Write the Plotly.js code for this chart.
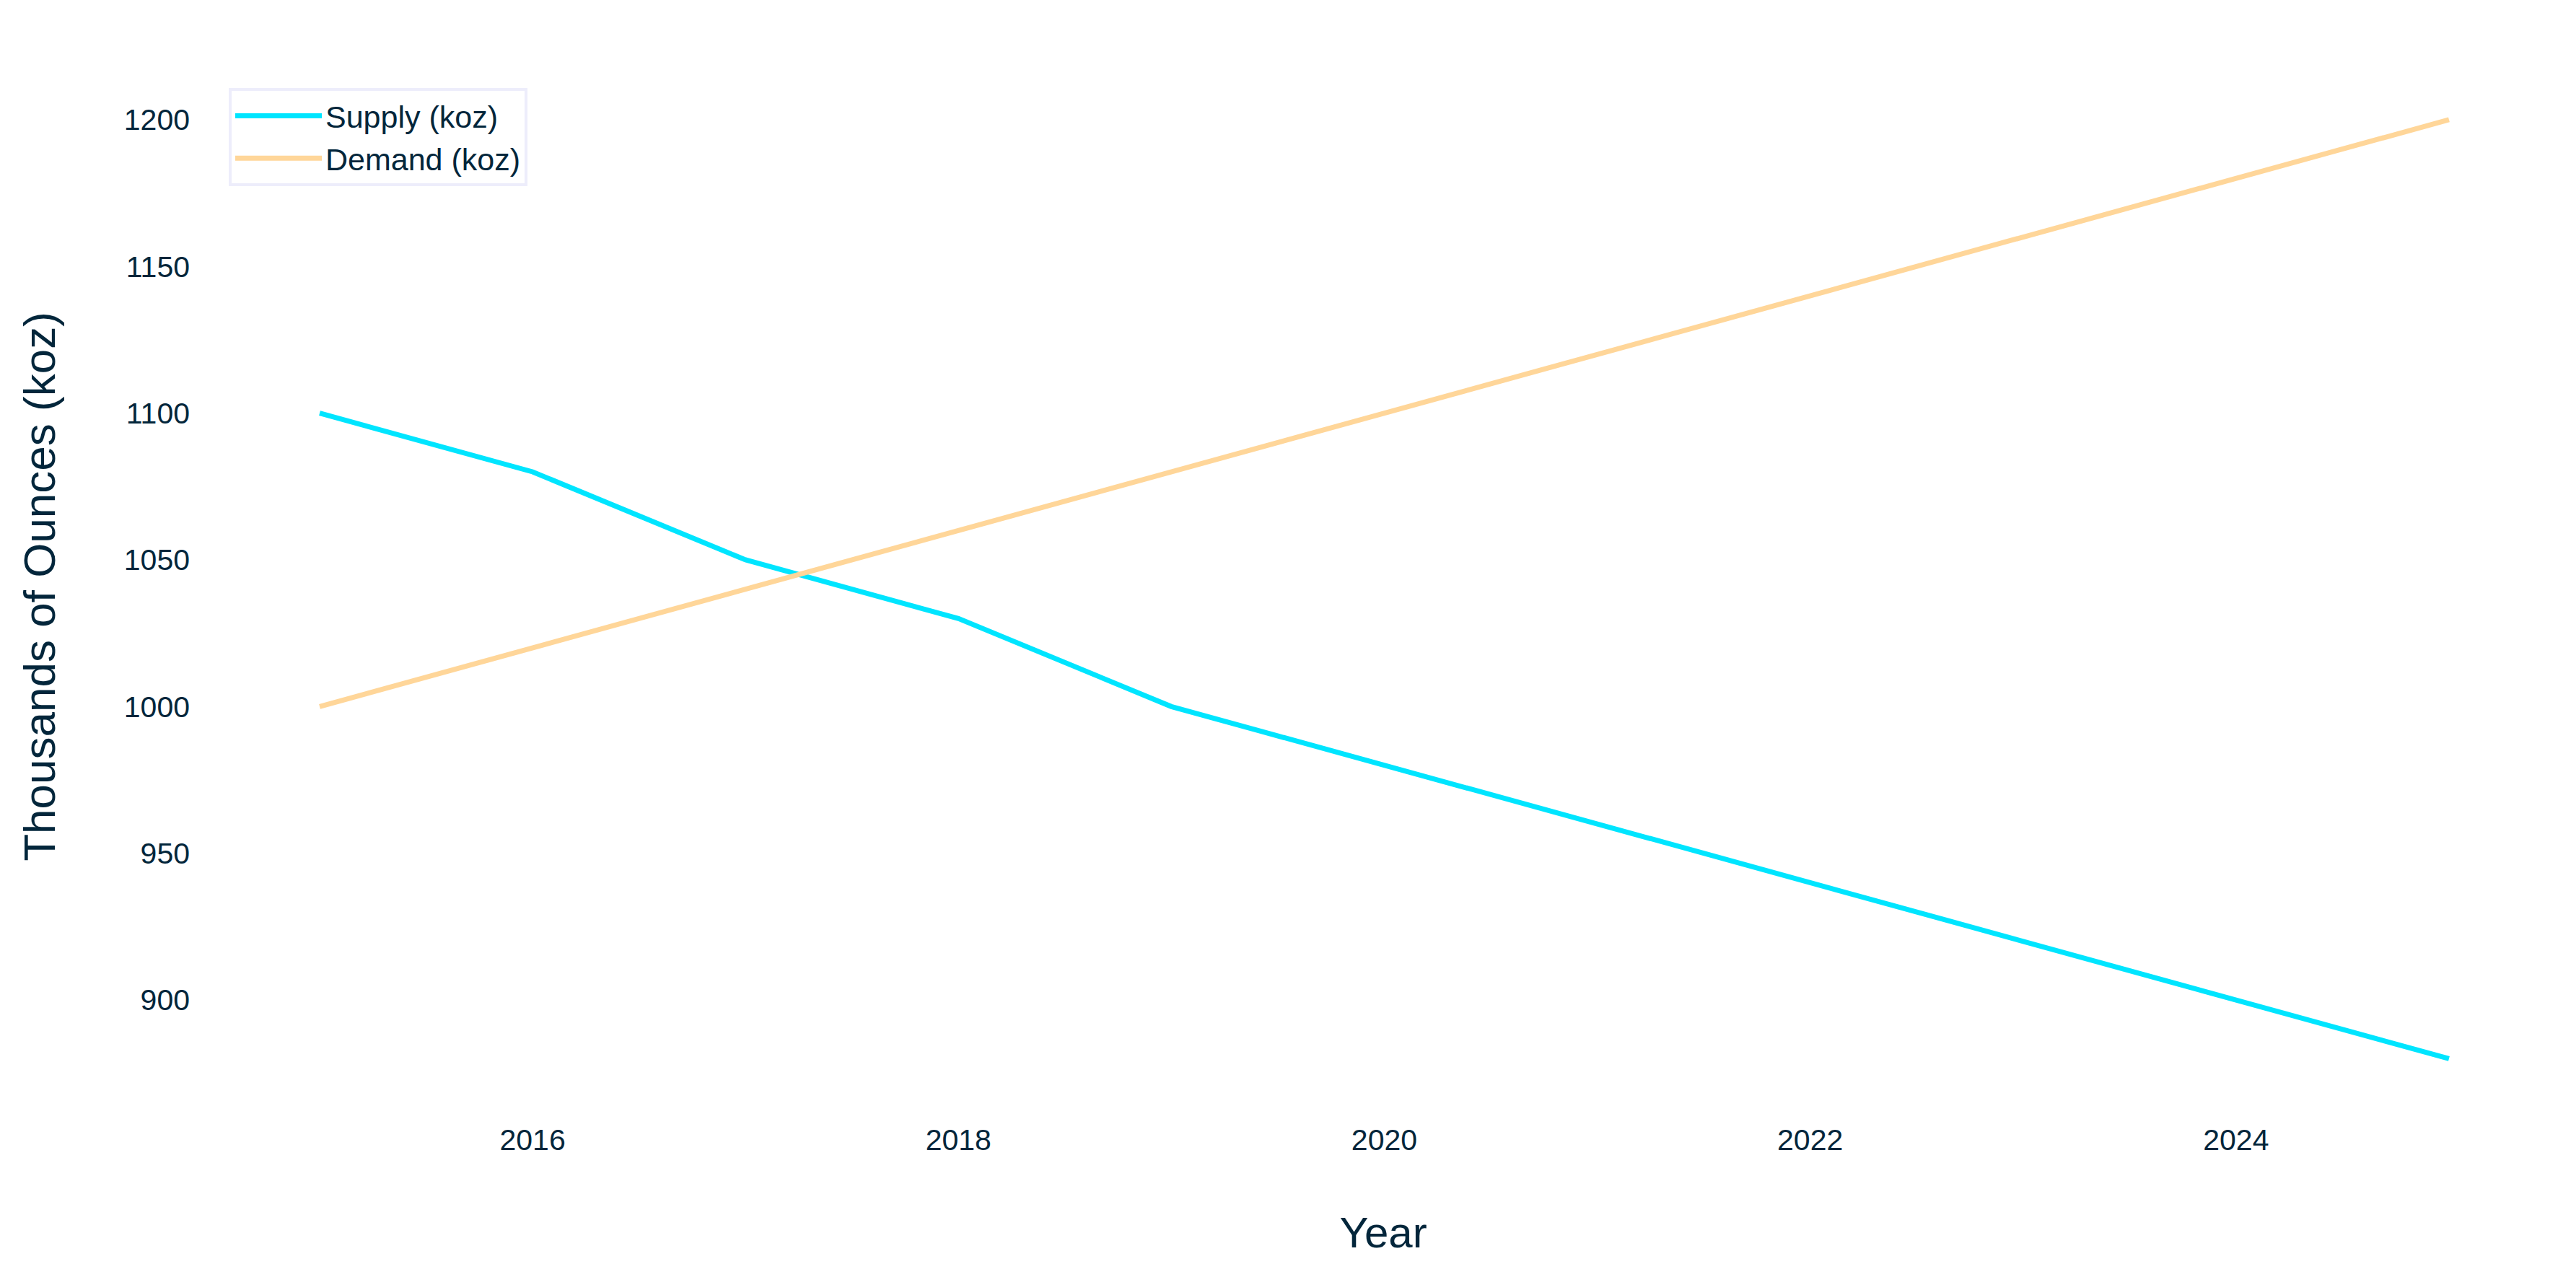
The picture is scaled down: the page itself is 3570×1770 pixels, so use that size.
<!DOCTYPE html>
<html>
<head>
<meta charset="utf-8">
<script src="https://cdn.plot.ly/plotly-3.0.1.min.js"></script>
<style>html,body{margin:0;padding:0;background:#fff;}#chart{width:3570px;height:1770px;}</style>
</head>
<body>
<div id="chart"></div>
<script>
const years = [2015, 2016, 2017, 2018, 2019, 2020, 2021, 2022, 2023, 2024, 2025];
const supply = [1100, 1080, 1050, 1030, 1000, 980, 960, 940, 920, 900, 880];
const demand = [1000, 1020, 1040, 1060, 1080, 1100, 1120, 1140, 1160, 1180, 1200];
const xTicks = [2016, 2018, 2020, 2022, 2024];
const yTicks = [900, 950, 1000, 1050, 1100, 1150, 1200];

const textColor = '#03263b';
const fontFam = '"Liberation Sans", Arial, sans-serif';

const traces = [
  {x: years, y: supply, name: 'Supply (koz)', type: 'scatter', mode: 'lines',
   line: {color: '#00e5ff', width: 7}},
  {x: years, y: demand, name: 'Demand (koz)', type: 'scatter', mode: 'lines',
   line: {color: '#ffd699', width: 7}}
];

const layout = {
  width: 3570, height: 1770,
  paper_bgcolor: '#ffffff', plot_bgcolor: '#ffffff',
  font: {family: fontFam, color: textColor, size: 41},
  margin: {l: 317, r: 53, t: 122, b: 266},
  showlegend: true,
  legend: {x: 0, y: 1, xanchor: 'left', yanchor: 'top',
           bgcolor: '#ffffff', bordercolor: '#ededfb', borderwidth: 4,
           font: {family: fontFam, size: 43, color: textColor},
           itemwidth: 120},
  xaxis: {range: [2014.573, 2025.417], tickvals: xTicks, ticktext: xTicks.map(String),
          showgrid: false, zeroline: false, showline: false, ticks: '',
          tickfont: {size: 41, color: textColor}, automargin: false, ticklabelstandoff: 48,
          title: {text: 'Year', font: {size: 60, color: textColor}, standoff: 84}},
  yaxis: {range: [871, 1210.8], tickvals: yTicks, ticktext: yTicks.map(String),
          showgrid: false, zeroline: false, showline: false, ticks: '',
          tickfont: {size: 41, color: textColor}, automargin: false, ticklabelstandoff: 53,
          title: {text: 'Thousands of Ounces (koz)', font: {size: 62, color: textColor}, standoff: 75}}
};

Plotly.newPlot('chart', traces, layout, {displayModeBar: false, staticPlot: true});
</script>
</body>
</html>
